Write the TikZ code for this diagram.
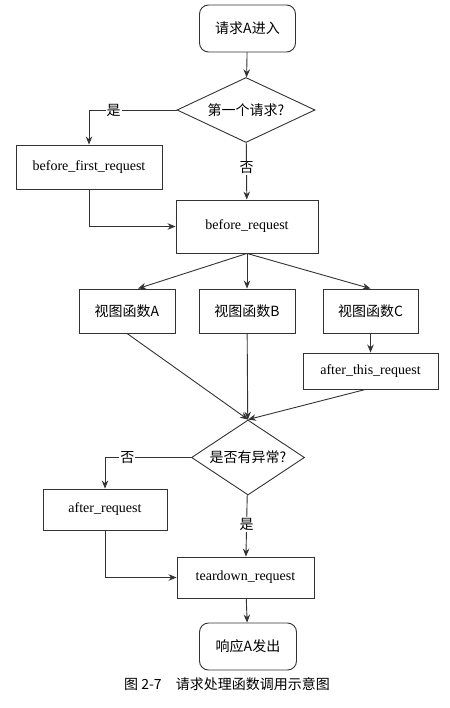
\documentclass[tikz,border=0pt]{standalone}
\usepackage{fontspec}
\setmainfont{Liberation Serif}
\newfontfamily\cjk{Noto Sans CJK SC}
\usetikzlibrary{arrows.meta,shapes.geometric}

\begin{document}
\begin{tikzpicture}[x=1pt,y=-1pt,->,>={Stealth[length=8pt,width=6.5pt]},line width=0.9pt,
	color=black!80,font=\fontsize{14}{16}\selectfont]
	\tikzstyle{every node}=[text=black]
	\tikzstyle{proc}=[draw,rectangle,inner sep=2pt]
	\tikzstyle{terminal}=[draw,rectangle,rounded corners=9pt,minimum width=96,minimum height=47]
	\tikzstyle{decision}=[draw,diamond,inner sep=0pt]
	\tikzstyle{yesno}=[fill=white,inner sep=1pt]
	
	\useasboundingbox (0,0) rectangle (449,708);
	
	\node[terminal] (start) at (247.5,28.5) {\cjk 请求A进入};
	\node[decision,aspect=2.1,minimum width=138,minimum height=65] (first) at (246,110) {\cjk 第一个请求?};
	\node[proc,minimum width=146,minimum height=44] (bfr) at (89,167) {before\_first\_request};
	\node[proc,minimum width=142,minimum height=53] (br) at (247,226.5) {before\_request};
	
	\node[proc,minimum width=96,minimum height=44] (va) at (127,311) {\cjk 视图函数A};
	\node[proc,minimum width=96,minimum height=44] (vb) at (247,311) {\cjk 视图函数B};
	\node[proc,minimum width=95,minimum height=44] (vc) at (370.5,311) {\cjk 视图函数C};
	\node[proc,minimum width=135,minimum height=36] (atr) at (370.5,371) {after\_this\_request};
	
	\node[decision,aspect=1.5,minimum width=113,minimum height=75] (exc) at (248,457.5) {\cjk 是否有异常?};
	\node[proc,minimum width=124,minimum height=41] (ar) at (105,509.5) {after\_request};
	\node[proc,minimum width=137,minimum height=41] (td) at (245.5,577.5) {teardown\_request};
	\node[terminal,minimum width=97] (resp) at (248,646.5) {\cjk 响应A发出};
	
	\node (cap) at (227,684) {\cjk 图 2-7\quad 请求处理函数调用示意图};
	
	\draw (start) -- (first);
	\draw (first.west) -| node[yesno,pos=0.36] {\cjk 是} (bfr.north);
	\draw (first) -- node[yesno,pos=0.44] {\cjk 否} (br);
	\draw (bfr.south) |- (br.west);
	
	\draw (br.south) -- ([xshift=11]va.north);
	\draw (br) -- (vb);
	\draw (br.south) -- (vc.north);
	\draw (vc) -- (atr);
	
	\draw (va.south) -- (exc.north);
	\draw (vb) -- (exc);
	\draw ([xshift=-5]atr.south) -- (exc.north);
	
	\draw (exc.west) -| node[yesno,pos=0.37] {\cjk 否} (ar.north);
	\draw (exc) -- node[yesno,pos=0.48] {\cjk 是} (td);
	\draw (ar.south) |- (td.west);
	\draw (td) -- (resp);
	
\end{tikzpicture}
\end{document}
